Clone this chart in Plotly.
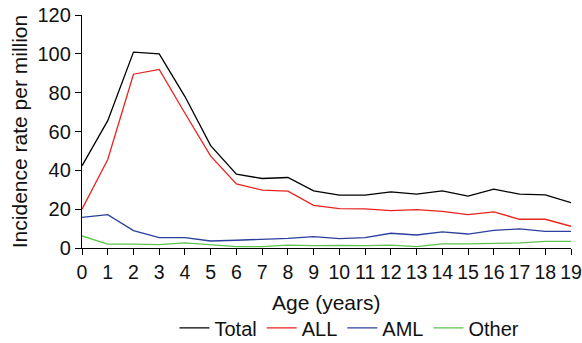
import plotly.graph_objects as go

ages = list(range(20))
total = [42.3, 65.6, 100.9, 100.0, 78.0, 52.7, 38.0, 35.8, 36.3, 29.4, 27.2, 27.2, 28.9, 27.7, 29.4, 26.7, 30.3, 27.7, 27.4, 23.4]
all_ = [20.0, 45.6, 89.5, 92.0, 69.4, 47.3, 33.0, 29.8, 29.3, 22.0, 20.3, 20.1, 19.3, 19.8, 18.9, 17.2, 18.6, 14.8, 14.8, 11.2]
aml = [15.8, 17.2, 9.0, 5.3, 5.3, 3.6, 4.0, 4.5, 5.0, 5.9, 4.8, 5.3, 7.6, 6.7, 8.3, 7.2, 9.1, 9.8, 8.6, 8.6]
other = [6.2, 2.0, 2.0, 1.7, 2.6, 1.7, 0.7, 0.7, 1.5, 1.2, 1.4, 1.2, 1.5, 0.7, 2.1, 2.1, 2.4, 2.6, 3.4, 3.4]

series = [("Total", total, "#000000"), ("ALL", all_, "#e8231f"), ("AML", aml, "#2b3f9e"), ("Other", other, "#5ec24f")]
x_title = "Age (years)"
y_title = "Incidence rate per million"

font = "Liberation Sans, Arial, Helvetica, sans-serif"
fig = go.Figure()
for name, vals, col in series:
    fig.add_trace(go.Scatter(x=ages, y=vals, name=name, mode="lines",
                             line=dict(color=col, width=1.3)))

fig.update_layout(
    width=582, height=343,
    margin=dict(l=82, r=11, t=15, b=95),
    paper_bgcolor="white", plot_bgcolor="white",
    font=dict(family=font, size=20, color="#111"),
    showlegend=True,
    legend=dict(orientation="h", x=0.547, xanchor="center", xref="paper",
                y=0.044, yanchor="middle", yref="container",
                font=dict(size=20), itemwidth=30, tracegroupgap=0, bgcolor="rgba(0,0,0,0)"),
    annotations=[dict(text=x_title, xref="paper", yref="paper", x=0.5, y=0,
                      xanchor="center", yanchor="middle", yshift=-54, showarrow=False,
                      font=dict(size=21))],
)
fig.update_xaxes(range=[0, 19], tickmode="array", tickvals=ages, ticktext=[str(a) for a in ages],
                 showline=True, linecolor="black", linewidth=1.3, ticks="outside", ticklen=6,
                 tickcolor="black", tickwidth=1.3, showgrid=False, zeroline=False, automargin=False,
                 ticklabeloverflow="allow", tickfont=dict(size=19.5))
fig.update_yaxes(range=[0, 120], tickvals=[0, 20, 40, 60, 80, 100, 120],
                 showline=True, linecolor="black", linewidth=1.3, ticks="outside", ticklen=6,
                 tickcolor="black", tickwidth=1.3, showgrid=False, zeroline=False, automargin=False,
                 ticklabeloverflow="allow",
                 title=dict(text=y_title, standoff=4, font=dict(size=21)),
                 tickfont=dict(size=20))

# remove the browser's default 8px body margin so the figure fills the window
fig.write_html("out.html", config={"displayModeBar": False},
               post_script="document.body.style.margin='0';")
